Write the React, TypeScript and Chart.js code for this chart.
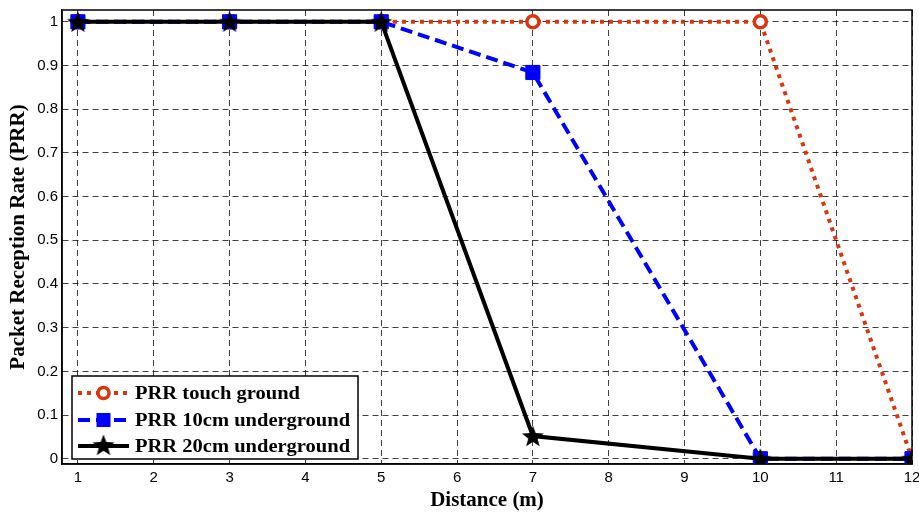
import React, { useEffect, useRef } from 'react';
import { Chart, registerables } from 'chart.js';

Chart.register(...registerables);

const distances = [1, 3, 5, 7, 10, 12];
const prrTouchGround = [1, 1, 1, 1, 1, 0];
const prr10cm = [1, 1, 1, 0.884, 0, 0];
const prr20cm = [1, 1, 1, 0.052, 0, 0];
const seriesLabels = ['PRR touch ground', 'PRR 10cm underground', 'PRR 20cm underground'];
const xTickValues = [1, 2, 3, 4, 5, 6, 7, 8, 9, 10, 11, 12];
const yTickValues = [0, 0.1, 0.2, 0.3, 0.4, 0.5, 0.6, 0.7, 0.8, 0.9, 1];
const xTitle = 'Distance (m)';
const yTitle = 'Packet Reception Rate (PRR)';

const RED = '#DA3510';
const BLUE = '#0000FF';
const BLACK = '#000000';

function makeStar(size: number, color: string): HTMLCanvasElement {
  const c = document.createElement('canvas');
  c.width = size;
  c.height = size;
  const ctx = c.getContext('2d')!;
  const cx = size / 2, cy = size / 2 + 1;
  const outer = size / 2 - 0.5, inner = outer * 0.42;
  ctx.beginPath();
  for (let i = 0; i < 10; i++) {
    const r = i % 2 === 0 ? outer : inner;
    const a = -Math.PI / 2 + (i * Math.PI) / 5;
    const x = cx + r * Math.cos(a);
    const y = cy + r * Math.sin(a);
    if (i === 0) ctx.moveTo(x, y); else ctx.lineTo(x, y);
  }
  ctx.closePath();
  ctx.fillStyle = color;
  ctx.fill();
  return c;
}

export default function App() {
  const ref = useRef<HTMLCanvasElement | null>(null);

  useEffect(() => {
    if (!ref.current) return;
    const star = makeStar(24, BLACK);

    const framePlugin = {
      id: 'frame',
      beforeDatasetsDraw(chart: any) {
        const { ctx, chartArea: a } = chart;
        ctx.save();
        ctx.strokeStyle = '#000';
        ctx.lineWidth = 1.5;
        ctx.setLineDash([]);
        ctx.strokeRect(a.left, a.top, a.right - a.left, a.bottom - a.top);
        ctx.restore();
      },
    };

    const legendPlugin = {
      id: 'boxLegend',
      afterDraw(chart: any) {
        const { ctx, chartArea: a } = chart;
        const x0 = a.left + 10;
        const y1 = a.bottom - 5;
        const w = 286, h = 83;
        const y0 = y1 - h;
        ctx.save();
        ctx.fillStyle = '#fff';
        ctx.fillRect(x0, y0, w, h);
        ctx.strokeStyle = '#000';
        ctx.lineWidth = 1.5;
        ctx.setLineDash([]);
        ctx.strokeRect(x0, y0, w, h);
        const rows = [y0 + 17, y0 + 44, y0 + 70];
        const lx0 = x0 + 6, lx1 = x0 + 57, mx = (lx0 + lx1) / 2;
        ctx.font = 'bold 19px "Liberation Serif", "Times New Roman", serif';
        ctx.textBaseline = 'middle';
        ctx.fillStyle = '#000';
        seriesLabels.forEach((lab, i) => {
          const y = rows[i];
          ctx.save();
          ctx.lineWidth = 4;
          ctx.lineCap = 'butt';
          if (i === 0) { ctx.strokeStyle = RED; ctx.setLineDash([4, 5]); }
          else if (i === 1) { ctx.strokeStyle = BLUE; ctx.setLineDash([12, 6]); }
          else { ctx.strokeStyle = BLACK; ctx.setLineDash([]); }
          ctx.beginPath();
          ctx.moveTo(lx0, y);
          ctx.lineTo(lx1, y);
          ctx.stroke();
          ctx.setLineDash([]);
          if (i === 0) {
            ctx.beginPath();
            ctx.arc(mx, y, 5.5, 0, Math.PI * 2);
            ctx.fillStyle = '#fff';
            ctx.fill();
            ctx.lineWidth = 3.5;
            ctx.strokeStyle = RED;
            ctx.stroke();
          } else if (i === 1) {
            ctx.fillStyle = BLUE;
            ctx.fillRect(mx - 7, y - 7, 14, 14);
          } else {
            ctx.drawImage(star, mx - 12, y - 13, 24, 24);
          }
          ctx.restore();
          ctx.save();
          ctx.fillStyle = '#000';
          ctx.translate(x0 + 63, y + 1);
          ctx.scale(1.08, 1);
          ctx.fillText(lab, 0, 0);
          ctx.restore();
        });
        ctx.restore();
      },
    };

    const tickFont = { family: '"Liberation Sans", Arial, sans-serif', size: 15 };
    const titleFont = { family: '"Liberation Serif", "Times New Roman", serif', size: 21, weight: 'bold' };

    const chart = new Chart(ref.current, {
      type: 'line',
      data: {
        datasets: [
          {
            label: seriesLabels[0],
            data: distances.map((x, i) => ({ x, y: prrTouchGround[i] })),
            borderColor: RED,
            backgroundColor: '#fff',
            borderWidth: 4,
            borderDash: [4, 5],
            pointStyle: 'circle',
            pointRadius: 6,
            pointBorderWidth: 3.5,
            pointBorderColor: RED,
            pointBackgroundColor: '#fff',
            order: 2,
            tension: 0,
          },
          {
            label: seriesLabels[1],
            data: distances.map((x, i) => ({ x, y: prr10cm[i] })),
            borderColor: BLUE,
            backgroundColor: BLUE,
            borderWidth: 4,
            borderDash: [12, 6],
            pointStyle: 'rect',
            pointRadius: 10,
            pointBorderWidth: 1,
            pointBorderColor: BLUE,
            pointBackgroundColor: BLUE,
            order: 1,
            tension: 0,
          },
          {
            label: seriesLabels[2],
            data: distances.map((x, i) => ({ x, y: prr20cm[i] })),
            borderColor: BLACK,
            backgroundColor: BLACK,
            borderWidth: 4,
            pointStyle: star as any,
            pointRadius: 12,
            order: 0,
            tension: 0,
          },
        ],
      },
      options: {
        animation: false,
        responsive: true,
        maintainAspectRatio: false,
        layout: { autoPadding: false, padding: { left: 0, right: 7, top: 10, bottom: 0 } },
        plugins: { legend: { display: false }, tooltip: { enabled: false } },
        scales: {
          x: {
            type: 'linear',
            min: 0.79,
            max: 12,
            afterBuildTicks: (s: any) => { s.ticks = xTickValues.map((v) => ({ value: v })); },
            afterFit: (s: any) => { s.height = 49; s.paddingLeft = 0; s.paddingRight = 0; },
            grid: { color: 'rgba(0,0,0,0.75)', lineWidth: 1, drawTicks: false },
            border: { display: true, color: '#000', width: 1.5, dash: [6, 4] },
            ticks: {
              padding: 5,
              color: '#000',
              font: tickFont,
              callback: (v: any) => String(v),
              maxRotation: 0,
              autoSkip: false,
            },
            title: {
              display: true,
              text: xTitle,
              color: '#000',
              font: titleFont,
              padding: { top: 0, bottom: 0 },
            },
          },
          y: {
            type: 'linear',
            min: -0.012,
            max: 1.027,
            afterBuildTicks: (s: any) => { s.ticks = yTickValues.map((v) => ({ value: v })); },
            afterFit: (s: any) => { s.width = 62; s.paddingTop = 0; s.paddingBottom = 0; },
            grid: { color: 'rgba(0,0,0,0.75)', lineWidth: 1, drawTicks: false },
            border: { display: true, color: '#000', width: 1.5, dash: [6, 4] },
            ticks: {
              padding: 4,
              color: '#000',
              font: tickFont,
              callback: (v: any) => String(Math.round(v * 10) / 10),
              autoSkip: false,
            },
            title: {
              display: true,
              text: yTitle,
              color: '#000',
              font: titleFont,
              padding: { top: 6, bottom: 0 },
            },
          },
        },
      },
      plugins: [framePlugin, legendPlugin],
    } as any);

    return () => chart.destroy();
  }, []);

  return (
    <div style={{ position: 'fixed', left: 0, top: 0, width: 919, height: 513, background: '#fff' }}>
      <canvas ref={ref} />
    </div>
  );
}
